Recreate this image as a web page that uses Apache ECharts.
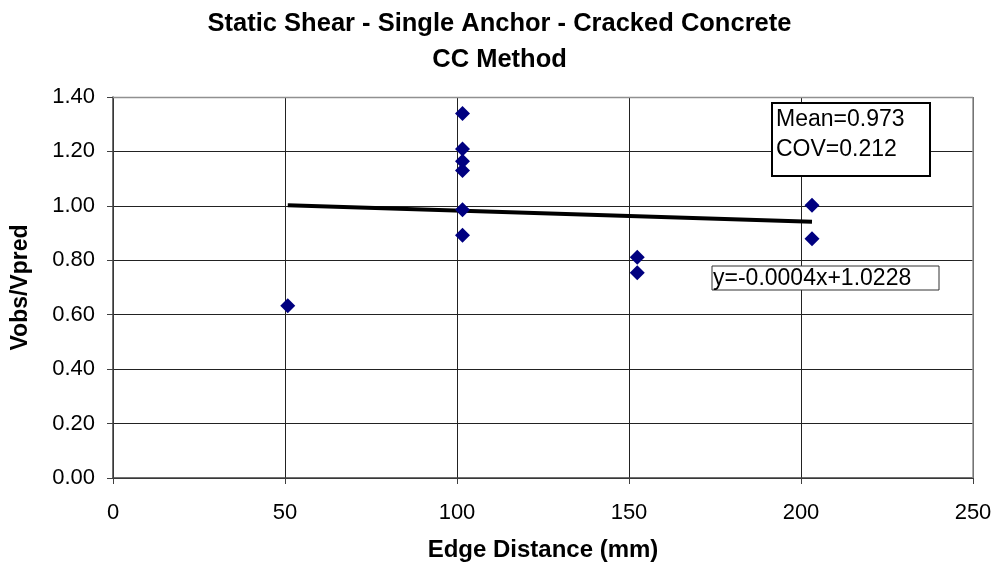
<!DOCTYPE html>
<html><head><meta charset="utf-8">
<script src="https://cdn.jsdelivr.net/npm/echarts@6/dist/echarts.min.js"></script>
<style>html,body{margin:0;padding:0;background:#fff}#c{width:999px;height:572px}</style>
</head><body><div id="c"></div>
<script>
const titleLines = ["Static Shear - Single Anchor - Cracked Concrete", "CC Method"];
const xName = "Edge Distance (mm)";
const yName = "Vobs/Vpred";
const edgeDist = [50.8, 101.6, 101.6, 101.6, 101.6, 101.6, 101.6, 152.4, 152.4, 203.2, 203.2];
const ratio =    [0.633, 1.339, 1.209, 1.164, 1.130, 0.986, 0.892, 0.811, 0.754, 1.002, 0.879];
const trendSlope = -0.0004;
const trendIntercept = 1.0228;
const statsText = ["Mean=0.973", "COV=0.212"];
const eqText = "y=-0.0004x+1.0228";

const xMin = Math.min(...edgeDist), xMax = Math.max(...edgeDist);
const trend = [[xMin, trendIntercept + trendSlope * xMin], [xMax, trendIntercept + trendSlope * xMax]];
const scatterData = edgeDist.map((x, i) => [x, ratio[i]]);

const chart = echarts.init(document.getElementById('c'));
const F = 'Liberation Sans, Arial, sans-serif';
chart.setOption({
  animation: false,
  backgroundColor: '#fff',
  title: {
    text: titleLines.join('\n'), left: 'center', top: 1,
    textStyle: { fontFamily: F, fontWeight: 'bold', fontSize: 25.5, lineHeight: 36, color: '#000' }
  },
  grid: { left: 113, right: 26, top: 97, bottom: 94 },
  xAxis: {
    type: 'value', min: 0, max: 250, interval: 50,
    name: xName, nameLocation: 'middle', nameGap: 60,
    nameTextStyle: { fontFamily: F, fontWeight: 'bold', fontSize: 24, color: '#000' },
    axisLine: { show: true, onZero: false, lineStyle: { color: '#404040', width: 1.5 } },
    axisTick: { show: true, length: 6, lineStyle: { color: '#404040' } },
    axisLabel: { fontFamily: F, fontSize: 22, color: '#000', margin: 24 },
    splitLine: { show: true, lineStyle: { color: '#222', width: 1 } }
  },
  yAxis: {
    type: 'value', min: 0, max: 1.4, interval: 0.2,
    name: yName, nameLocation: 'middle', nameGap: 81, nameRotate: 90,
    nameTextStyle: { fontFamily: F, fontWeight: 'bold', fontSize: 23, color: '#000' },
    axisLine: { show: true, onZero: false, lineStyle: { color: '#404040', width: 1.5 } },
    axisTick: { show: true, length: 6, lineStyle: { color: '#404040' } },
    axisLabel: { fontFamily: F, fontSize: 22, color: '#000', margin: 18, formatter: v => v.toFixed(2) },
    splitLine: { show: true, lineStyle: { color: '#222', width: 1 } }
  },
  graphic: [
    { type: 'line', shape: { x1: 113, y1: 97.5, x2: 973, y2: 97.5 }, style: { stroke: '#909090', lineWidth: 1.5 }, z: 1 },
    { type: 'line', shape: { x1: 973, y1: 97, x2: 973, y2: 478 }, style: { stroke: '#909090', lineWidth: 1.5 }, z: 1 },
    { type: 'rect', shape: { x: 772, y: 103, width: 158, height: 73 }, style: { fill: '#fff', stroke: '#000', lineWidth: 2 }, z: 10 },
    { type: 'text', left: 776, top: 105, z: 11, style: { text: statsText.join('\n'), fontFamily: F, fontSize: 23, lineHeight: 30, fill: '#000' } },
    { type: 'rect', shape: { x: 712, y: 266, width: 227, height: 24 }, style: { fill: '#fff', stroke: '#333', lineWidth: 1 }, z: 10 },
    { type: 'text', left: 713, top: 267, z: 11, style: { text: eqText, fontFamily: F, fontSize: 23, fill: '#000' } }
  ],
  series: [
    {
      type: 'line', data: trend, symbol: 'none', z: 3,
      lineStyle: { color: '#000', width: 4 }
    },
    {
      type: 'scatter', data: scatterData, symbol: 'diamond', symbolSize: 15, z: 4,
      itemStyle: { color: '#000080', opacity: 1 }
    }
  ]
});
</script></body></html>
